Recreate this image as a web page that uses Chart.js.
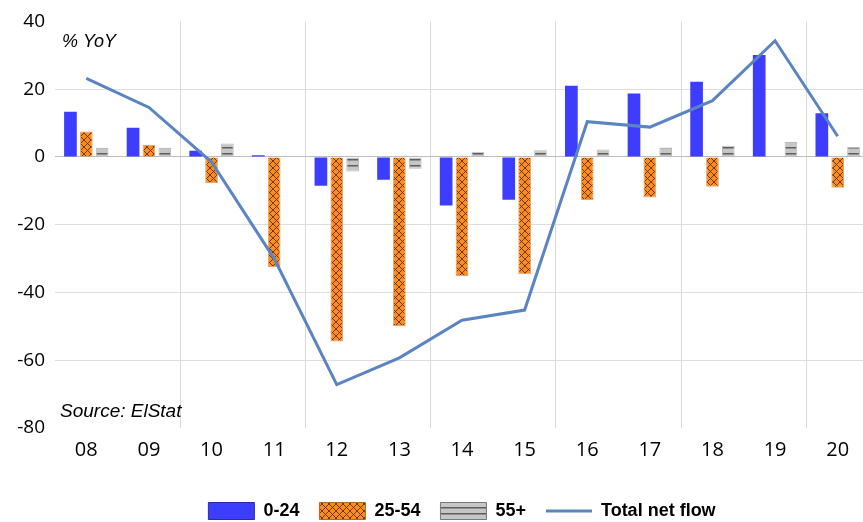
<!DOCTYPE html>
<html>
<head>
<meta charset="utf-8">
<script src="https://cdn.jsdelivr.net/npm/chart.js@4.4.1/dist/chart.umd.min.js"></script>
<style>
  html, body { margin: 0; padding: 0; background: #ffffff; overflow: hidden; }
  canvas { display: block; }
</style>
</head>
<body>
<canvas id="chart" width="872" height="530"></canvas>
<script>
// Greek net migration flows by age group, % YoY
const years = ['08', '09', '10', '11', '12', '13', '14', '15', '16', '17', '18', '19', '20'];
const age0to24 = [13.3, 8.6, 1.8, 0.5, -8.5, -6.7, -14.3, -12.6, 21.0, 18.7, 22.2, 30.1, 12.9];
const age25to54 = [7.5, 3.6, -7.7, -32.5, -54.5, -49.9, -35.2, -34.6, -12.7, -12.0, -8.8, 0, -9.1];
const age55plus = [2.7, 2.7, 4.0, 0, -4.3, -3.5, 1.5, 2.0, 2.2, 2.8, 3.3, 4.5, 2.9];
const totalNetFlow = [23.2, 14.6, -1.5, -30.0, -67.2, -59.3, -48.2, -45.2, 10.4, 8.8, 16.6, 34.3, 6.1];
const yTickValues = [-80, -60, -40, -20, 0, 20, 40];

const seriesLabels = ['0-24', '25-54', '55+', 'Total net flow'];
const unitLabel = '% YoY';
const sourceLabel = 'Source: ElStat';

// Fill patterns: orange crosshatch and grey horizontal stripes
function crossHatch() {
  const n = 7;
  const c = document.createElement('canvas');
  c.width = n; c.height = n;
  const g = c.getContext('2d');
  g.fillStyle = '#ff8c1a';
  g.fillRect(0, 0, n, n);
  g.strokeStyle = '#5a3000';
  g.lineWidth = 0.9;
  g.beginPath();
  g.moveTo(-1, -1); g.lineTo(n + 1, n + 1);
  g.moveTo(n + 1, -1); g.lineTo(-1, n + 1);
  g.stroke();
  return g.createPattern(c, 'repeat');
}
function hStripes() {
  const c = document.createElement('canvas');
  c.width = 4; c.height = 6;
  const g = c.getContext('2d');
  g.fillStyle = '#c6c6c6';
  g.fillRect(0, 0, 4, 6);
  g.fillStyle = '#5e5e5e';
  g.fillRect(0, 3, 4, 1.5);
  return g.createPattern(c, 'repeat');
}

const tickFont = { family: '"Open Sans", Lato, sans-serif', size: 19 };

// Italic unit and source notes inside the plot
const notes = {
  id: 'notes',
  afterDraw(chart) {
    const { ctx, chartArea } = chart;
    ctx.save();
    ctx.fillStyle = '#000000';
    ctx.textBaseline = 'middle';
    ctx.textAlign = 'left';
    ctx.font = 'italic 18px "Liberation Sans", Arial, sans-serif';
    ctx.fillText(unitLabel, chartArea.left + 7, 42);
    ctx.font = 'italic 19px "Liberation Sans", Arial, sans-serif';
    ctx.fillText(sourceLabel, chartArea.left + 5, 412);
    ctx.restore();
  }
};

new Chart(document.getElementById('chart'), {
  data: {
    labels: years,
    datasets: [
      {
        type: 'bar', label: seriesLabels[0], data: age0to24,
        backgroundColor: '#3d3dff', borderColor: '#3d3dff', borderWidth: 0,
        legendBorder: '#2a2ab0', order: 1
      },
      {
        type: 'bar', label: seriesLabels[1], data: age25to54,
        backgroundColor: crossHatch(), borderColor: '#e3a56a', borderWidth: 1,
        legendBorder: '#b06a20', order: 1
      },
      {
        type: 'bar', label: seriesLabels[2], data: age55plus,
        backgroundColor: hStripes(), borderColor: '#b8b8b8', borderWidth: 1,
        legendBorder: '#7a7a7a', order: 1
      },
      {
        type: 'line', label: seriesLabels[3], data: totalNetFlow,
        borderColor: '#5b84c2', backgroundColor: '#5b84c2', borderWidth: 3,
        pointRadius: 0, tension: 0, fill: false, order: 0
      }
    ]
  },
  options: {
    responsive: false,
    animation: false,
    layout: { padding: { left: 0, right: 3, top: 18, bottom: 0 } },
    datasets: {
      bar: { categoryPercentage: 0.76, barPercentage: 0.8 }
    },
    scales: {
      x: {
        offset: true,
        border: { display: false },
        grid: {
          offset: true,
          drawTicks: false,
          lineWidth: 1,
          color: (ctx) => (ctx.index > 0 && ctx.index < years.length && ctx.index % 2 === 0) ? '#dadada' : 'rgba(0,0,0,0)'
        },
        ticks: { color: '#000000', font: { ...tickFont, size: 20 }, padding: 10, maxRotation: 0 },
        afterFit: (s) => { s.height = 54; }
      },
      y: {
        min: -80, max: 40,
        border: { display: false },
        afterBuildTicks: (s) => { s.ticks = yTickValues.map(v => ({ value: v })); },
        grid: {
          drawTicks: false,
          lineWidth: 1,
          color: (ctx) => {
            const v = ctx.tick && ctx.tick.value;
            if (v === 0) return '#bdbdbd';
            if (v === 40 || v === -80) return 'rgba(0,0,0,0)';
            return '#dedede';
          }
        },
        ticks: { color: '#000000', font: tickFont, padding: 10 },
        afterFit: (s) => { s.width = 55; }
      }
    },
    plugins: {
      tooltip: { enabled: false },
      legend: {
        position: 'bottom',
        fullSize: false,
        labels: {
          usePointStyle: true,
          pointStyleWidth: 46,
          boxHeight: 17,
          padding: 20,
          color: '#000000',
          font: { family: '"Liberation Sans", Arial, sans-serif', size: 18, weight: 'bold' },
          generateLabels(chart) {
            return chart.data.datasets.map((ds, i) => ({
              text: ds.label,
              fillStyle: ds.backgroundColor,
              strokeStyle: ds.type === 'line' ? ds.borderColor : ds.legendBorder,
              lineWidth: ds.type === 'line' ? 3 : 1,
              pointStyle: ds.type === 'line' ? 'line' : 'rect',
              datasetIndex: i,
              hidden: false
            }));
          }
        }
      }
    }
  },
  plugins: [notes]
});
</script>
</body>
</html>
